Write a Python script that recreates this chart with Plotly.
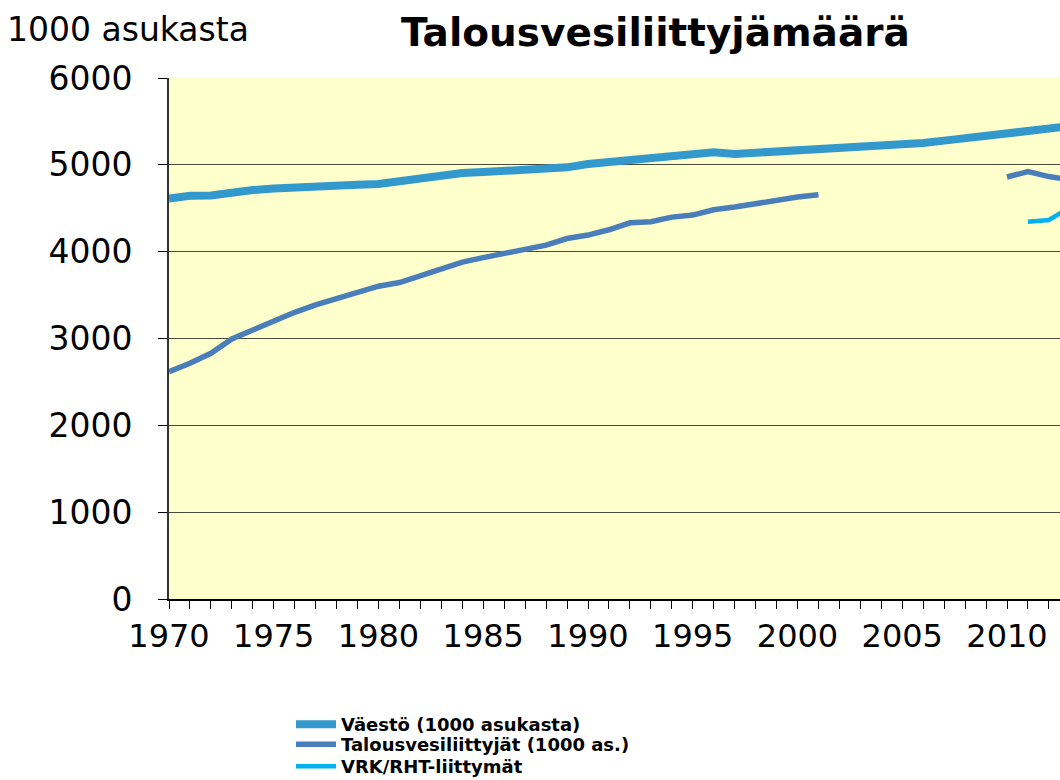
import plotly.graph_objects as go

years = list(range(1970, 2014))

vaesto = [4612, 4644, 4648, 4687, 4710, 4728, 4744, 4756, 4767, 4771,
          4780, 4809, 4844, 4883, 4906, 4917, 4933, 4944, 4952, 4971,
          5010, 5033, 5060, 5086, 5109, 5125, 5144, 5125, 5140, 5152,
          5163, 5176, 5183, 5194, 5210, 5229, 5252, 5279, 5305, 5333,
          5363, 5390, 5417, 5445]

talousvesi = [2617, 2714, 2829, 2994, 3098, 3202, 3302, 3386, 3459, 3521,
              3602, 3644, 3725, 3810, 3879, 3932, 3978, 4029, 4075, 4151,
              4191, 4252, 4332, 4344, 4398, 4421, 4483, 4514, 4552, 4606,
              4629, 4656, None, None, None, None, None, None, None, None,
              4860, 4921, 4865, 4830]

vrk = [None] * 41 + [4345, 4365, 4510]

y_ticks = [0, 1000, 2000, 3000, 4000, 5000, 6000]

fig = go.Figure()
fig.add_trace(go.Scatter(x=years, y=vaesto, mode="lines", name="Väestö (1000 asukasta)",
                         line=dict(color="#3399CC", width=8), connectgaps=False, legend="legend"))
fig.add_trace(go.Scatter(x=years, y=talousvesi, mode="lines", name="Talousvesiliittyjät (1000 as.)",
                         line=dict(color="#4A7EBB", width=5.5), connectgaps=False, legend="legend2"))
fig.add_trace(go.Scatter(x=years, y=vrk, mode="lines", name="VRK/RHT-liittymät",
                         line=dict(color="#00B0F0", width=4.5), connectgaps=False, legend="legend3"))

legend_font = dict(family="DejaVu Sans", size=18, color="black", weight="bold")


def legend_at(top_px):
    return dict(x=291 / 1060, y=1 - top_px / 780, xref="container", yref="container",
                xanchor="left", yanchor="top", orientation="v", font=legend_font,
                bgcolor="rgba(0,0,0,0)", itemwidth=40)


fig.update_layout(
    width=1060, height=780, autosize=False,
    margin=dict(l=169, r=0, t=78, b=181, pad=0, autoexpand=False),
    paper_bgcolor="white", plot_bgcolor="#FFFFCC",
    font=dict(family="DejaVu Sans", color="black"),
    showlegend=True,
    legend=legend_at(706),
    legend2=legend_at(726),
    legend3=legend_at(748),
    annotations=[
        dict(text="<b>Talousvesiliittyjämäärä</b>", xref="paper", yref="paper",
             x=(655 - 169) / 891, y=1 + (78.5 - 33) / 520, xanchor="center", yanchor="middle",
             showarrow=False, font=dict(family="DejaVu Sans", size=39, color="black")),
        dict(text="1000 asukasta", xref="paper", yref="paper",
             x=(5 - 169) / 891, y=1 + (78.5 - 30) / 520, xanchor="left", yanchor="middle",
             showarrow=False, font=dict(family="DejaVu Sans", size=33, color="black")),
    ],
)

fig.update_xaxes(range=[1970, 2012.53], tick0=1970, dtick=5, ticks="outside", ticklen=8,
                 tickcolor="black", tickwidth=1, showline=True, linecolor="black", linewidth=1.5,
                 showgrid=False, zeroline=False, automargin=False, tickangle=0,
                 tickfont=dict(family="DejaVu Sans", size=32, color="black"),
                 minor=dict(dtick=1, tick0=1970, ticks="outside", ticklen=8, tickcolor="black", showgrid=False))
fig.update_yaxes(range=[0, 6000], tickvals=y_ticks, ticks="outside", ticklen=9,
                 tickcolor="black", showline=True, linecolor="#333333", linewidth=2,
                 showgrid=True, gridcolor="#4a4a3a", gridwidth=1.3, zeroline=False, automargin=False,
                 tickfont=dict(family="DejaVu Sans", size=33, color="black"),
                 ticklabelstandoff=19)

fig.write_html("out.html", config={"displayModeBar": False},
               post_script="document.body.style.margin='0px';")
